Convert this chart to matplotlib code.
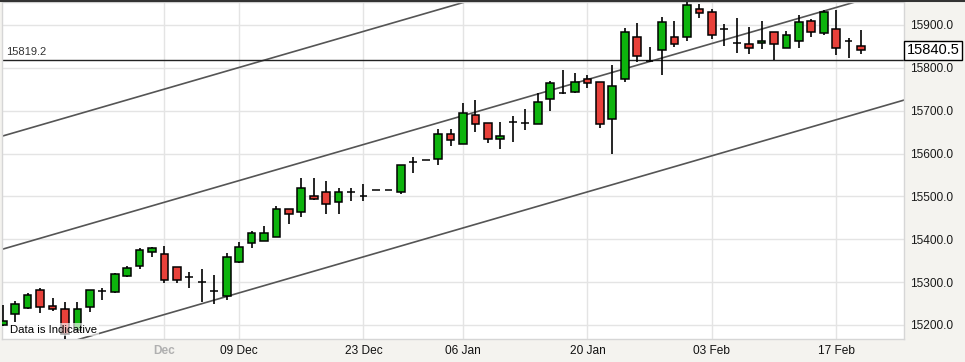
import numpy as np
import matplotlib
matplotlib.use("Agg")
import matplotlib.pyplot as plt
import matplotlib.transforms as mtransforms

plt.rcParams['font.family'] = ['Liberation Sans', 'DejaVu Sans']

# daily candles
opens = [15200, 15226, 15240, 15282, 15244, 15237, 15188, 15242, 15280, 15277,
         15314, 15338, 15370, 15366, 15335, 15312, 15300, 15279, 15268, 15347,
         15391, 15396, 15406, 15471, 15464, 15501, 15510, 15487, 15510, 15501,
         15515, 15515, 15510, 15580, 15585, 15587, 15646, 15622, 15690, 15671,
         15634, 15674, 15671, 15669, 15727, 15741, 15744, 15774, 15767, 15681,
         15774, 15872, 15816, 15842, 15872, 15872, 15937, 15930, 15891, 15858,
         15856, 15858, 15884, 15846, 15863, 15909, 15881, 15891, 15863, 15851]
highs = [15247, 15256, 15275, 15286, 15263, 15254, 15254, 15282, 15286, 15321,
         15338, 15380, 15382, 15384, 15336, 15324, 15331, 15317, 15368, 15394,
         15419, 15431, 15478, 15471, 15543, 15543, 15536, 15520, 15520, 15529,
         15515, 15515, 15573, 15592, 15585, 15657, 15657, 15718, 15725, 15671,
         15674, 15688, 15704, 15741, 15769, 15795, 15788, 15783, 15767, 15807,
         15893, 15905, 15849, 15919, 15909, 15954, 15949, 15937, 15902, 15916,
         15895, 15909, 15884, 15886, 15923, 15914, 15935, 15935, 15870, 15888]
lows = [15198, 15207, 15237, 15228, 15233, 15167, 15184, 15230, 15258, 15275,
        15312, 15331, 15359, 15298, 15298, 15286, 15254, 15249, 15258, 15345,
        15380, 15396, 15406, 15436, 15452, 15492, 15459, 15459, 15489, 15489,
        15515, 15515, 15506, 15555, 15585, 15573, 15618, 15622, 15650, 15625,
        15611, 15627, 15655, 15669, 15699, 15739, 15741, 15753, 15660, 15599,
        15767, 15814, 15814, 15783, 15849, 15863, 15916, 15867, 15851, 15835,
        15832, 15844, 15818, 15846, 15846, 15872, 15877, 15830, 15823, 15832]
closes = [15209, 15249, 15270, 15242, 15237, 15179, 15237, 15282, 15280, 15319,
          15333, 15375, 15380, 15305, 15305, 15312, 15300, 15279, 15359, 15382,
          15415, 15415, 15471, 15459, 15520, 15494, 15482, 15510, 15510, 15501,
          15515, 15515, 15573, 15580, 15585, 15646, 15632, 15695, 15669, 15634,
          15641, 15674, 15671, 15720, 15765, 15741, 15767, 15765, 15669, 15758,
          15884, 15828, 15816, 15907, 15856, 15947, 15928, 15877, 15891, 15858,
          15846, 15863, 15856, 15877, 15907, 15884, 15930, 15846, 15863, 15840.5]

tick_pos = [13, 19, 29, 37, 47, 57, 67]
tick_labels = ["Dec", "09 Dec", "23 Dec", "06 Jan", "20 Jan", "03 Feb", "17 Feb"]
y_ticks = [15200, 15300, 15400, 15500, 15600, 15700, 15800, 15900]

level = 15819.2
last_price = 15840.5
# channel lines: (x0, x1), (y0, y1)
channel = [((0, 55.5), (15641, 16108)),
           ((0, 72.6), (15377, 15988)),
           ((0, 72.6), (15115, 15726))]

BG = "#f4f3ef"
GREEN = "#0db40d"
RED = "#e8413a"

fig = plt.figure(figsize=(9.65, 3.62), dpi=100, facecolor=BG)
ax = fig.add_axes([2 / 965, 23 / 362, 902 / 965, 337 / 362])
ax.set_facecolor("white")

idx = np.arange(len(opens))
o = np.array(opens, dtype=float)
c = np.array(closes, dtype=float)
up = c >= o

ax.vlines(idx, lows, highs, color="black", lw=1.2, zorder=3)
ax.bar(idx, c - o, bottom=o, width=0.62,
       color=np.where(up, GREEN, RED), edgecolor="black", lw=1.1, zorder=4)

for (xs, ys) in channel:
    ax.plot(xs, ys, color="#555555", lw=1.2, zorder=2)

ax.axhline(level, color="#222222", lw=1.0, zorder=2)
ax.text(0.3, level + 5, f"{level:.1f}", fontsize=8, color="#333333",
        va="bottom", ha="left", zorder=5)

ax.set_xlim(-0.06, 72.45)
ax.set_ylim(15167.3, 15953.6)

ax.set_yticks(y_ticks)
ax.set_yticklabels([f"{v:.1f}" for v in y_ticks])
ax.yaxis.tick_right()
ax.tick_params(axis="y", length=0, pad=4, labelsize=8.6, labelcolor="#1a1a1a")
ax.set_xticks(tick_pos)
ax.set_xticklabels(tick_labels)
ax.tick_params(axis="x", length=0, pad=4, labelsize=8.6, labelcolor="#111111")
lab = ax.get_xticklabels()[0]
lab.set_fontweight("bold")
lab.set_color("#b0b0b0")

ax.grid(True, color="#e4e4e4", lw=1.0, zorder=0)
ax.set_axisbelow(True)
for s in ax.spines.values():
    s.set_color("#d6d6d6")
    s.set_linewidth(1.0)

# last price box on the axis
trans = mtransforms.blended_transform_factory(ax.transAxes, ax.transData)
ax.text(1.003, last_price, f"{last_price:.1f}", transform=trans, fontsize=10.5,
        va="center", ha="left", color="black", zorder=6, clip_on=False,
        bbox=dict(boxstyle="square,pad=0.18", fc="white", ec="black", lw=1.0))

ax.text(0.009, 0.028, "Data is Indicative", transform=ax.transAxes, fontsize=8.2,
        color="black", va="center", ha="left", zorder=6,
        bbox=dict(boxstyle="square,pad=0.15", fc="white", ec="none", alpha=0.65))

# dark top border across the whole picture
fig.add_artist(plt.Line2D([0, 1], [0.998, 0.998], color="#333333", lw=1.5,
                          transform=fig.transFigure))

fig.savefig("out.png", dpi=100, facecolor=BG)
